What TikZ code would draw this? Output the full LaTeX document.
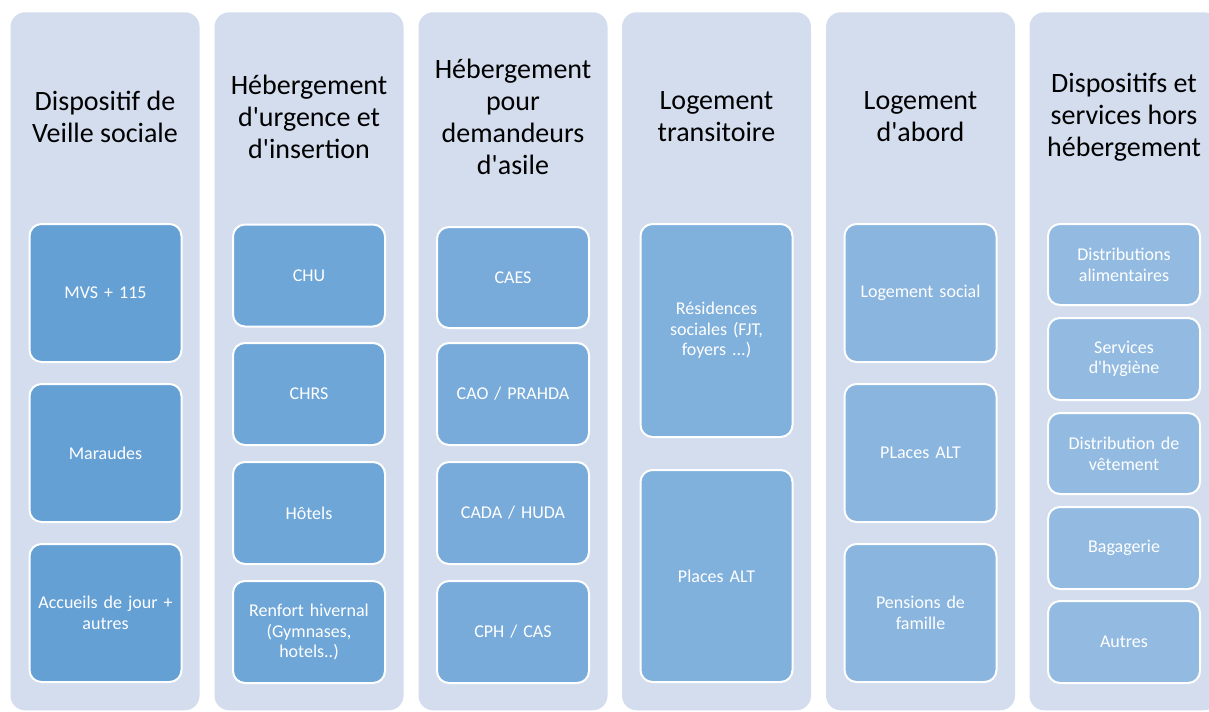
\documentclass[tikz,border=0pt]{standalone}
\usepackage{fontspec}
\setmainfont{Carlito}[Ligatures=TeXOff]
\usetikzlibrary{positioning}
\definecolor{laneback}{RGB}{211,221,238}
\definecolor{boxa}{RGB}{101,160,213}
\definecolor{boxb}{RGB}{110,166,216}
\definecolor{boxc}{RGB}{120,171,218}
\definecolor{boxd}{RGB}{128,176,220}
\definecolor{boxe}{RGB}{137,181,222}
\definecolor{boxf}{RGB}{147,187,225}
\tikzset{
  lane/.style={fill=laneback, rounded corners=11pt, minimum width=141.75pt, minimum height=523.5pt, inner sep=0pt, anchor=north},
  lanetitle/.style={align=center, font=\fontsize{21}{24}\selectfont, text=black},
  item/.style={draw=white, line width=1.5pt, rounded corners=9pt, minimum width=114pt, text width=105pt, align=center, text=white, font=\fontsize{13.5}{15.5}\selectfont, inner sep=0pt},
}

\begin{document}
\begin{tikzpicture}[x={(0.75pt,0)}, y={(0,-0.75pt)}]
  \useasboundingbox (0,0) rectangle (1209,711);
  % the six lanes
  \node[lane] (veille) at (105,12) {};
  \node[lane] (urgence) at (309,12) {};
  \node[lane] (asile) at (513,12) {};
  \node[lane] (transit) at (716.5,12) {};
  \node[lane] (abord) at (920.5,12) {};
  \node[lane] (horsheb) at (1124,12) {};

  \node[lanetitle] (veilletitle) at (105,117) {Dispositif de\\Veille sociale};
  \node[lanetitle] (urgencetitle) at (309,117) {Hébergement\\d'urgence et\\d'insertion};
  \node[lanetitle] (asiletitle) at (513,117) {Hébergement\\pour\\demandeurs\\d'asile};
  \node[lanetitle] (transittitle) at (716.5,117) {Logement\\transitoire};
  \node[lanetitle] (abordtitle) at (920.5,117) {Logement\\d'abord};
  \node[lanetitle] (horshebtitle) at (1124,117) {Dispositifs et\\services hors\\hébergement};

  \node[item, fill=boxa, minimum height=103.5pt] (mvs) at (105.5,293) {MVS + 115};
  \node[item, fill=boxa, minimum height=103.5pt] (maraudes) at (105.5,453) {Maraudes};
  \node[item, fill=boxa, minimum height=103.5pt] (accueils) at (105.5,613) {Accueils de jour +\\autres};

  \node[item, fill=boxb, minimum height=76.5pt] (chu) at (309,275.5) {CHU};
  \node[item, fill=boxb, minimum height=76.5pt] (chrs) at (309,394) {CHRS};
  \node[item, fill=boxb, minimum height=76.5pt] (hotels) at (309,513) {Hôtels};
  \node[item, fill=boxb, minimum height=76.5pt] (renfort) at (309,632) {Renfort hivernal\\(Gymnases,\\hotels..)};

  \node[item, fill=boxc, minimum height=75.75pt] (caes) at (513,277.5) {CAES};
  \node[item, fill=boxc, minimum height=76.5pt] (cao) at (513,394) {CAO / PRAHDA};
  \node[item, fill=boxc, minimum height=76.5pt] (cada) at (513,513) {CADA / HUDA};
  \node[item, fill=boxc, minimum height=76.5pt] (cph) at (513,632) {CPH / CAS};

  \node[item, fill=boxd, minimum height=159.75pt] (residences) at (716.5,330.5) {Résidences\\sociales (FJT,\\foyers ...)};
  \node[item, fill=boxd, minimum height=159pt] (altplaces) at (716.5,576) {Places ALT};

  \node[item, fill=boxe, minimum height=103.5pt] (social) at (920.5,293) {Logement social};
  \node[item, fill=boxe, minimum height=103.5pt] (altabord) at (920.5,453) {PLaces ALT};
  \node[item, fill=boxe, minimum height=103.5pt] (pensions) at (920.5,613) {Pensions de\\famille};

  \node[item, fill=boxf, minimum height=60.75pt] (alim) at (1124,264.5) {Distributions\\alimentaires};
  \node[item, fill=boxf, minimum height=61.5pt] (hygiene) at (1124,359) {Services\\d'hygiène};
  \node[item, fill=boxf, minimum height=60.75pt] (vetement) at (1124,453.5) {Distribution de\\vêtement};
  \node[item, fill=boxf, minimum height=61.5pt] (bagagerie) at (1124,548) {Bagagerie};
  \node[item, fill=boxf, minimum height=61.5pt] (autres) at (1124,642) {Autres};
\end{tikzpicture}
\end{document}
